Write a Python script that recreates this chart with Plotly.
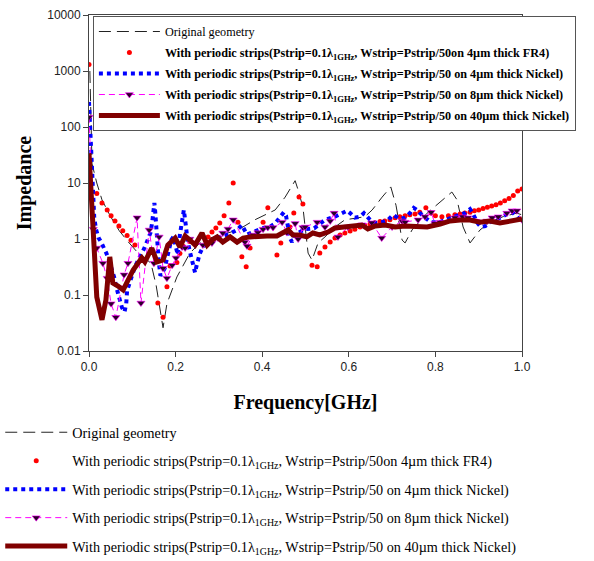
import plotly.graph_objects as go

# ---------------- data ----------------
orig_x = [0.002, 0.004, 0.007, 0.018, 0.03, 0.05, 0.07, 0.09, 0.11, 0.13, 0.143, 0.155, 0.164, 0.171,
          0.18, 0.203, 0.233, 0.263, 0.30, 0.344, 0.383, 0.413, 0.43, 0.453, 0.476, 0.483, 0.494, 0.506,
          0.515, 0.529, 0.545, 0.568, 0.591, 0.637, 0.654, 0.677, 0.697, 0.709, 0.723, 0.73, 0.746,
          0.781, 0.811, 0.838, 0.85, 0.864, 0.88, 0.903, 0.926, 0.956, 0.988, 1.0]
orig_y = [1000, 150, 22, 10, 5, 2.5, 1.4, 0.9, 0.6, 0.45, 0.37, 0.15, 0.06, 0.026,
          0.07, 0.21, 0.56, 0.96, 1.15, 1.45, 2.2, 2.9, 3.3, 5.6, 11, 7.5, 3.7, 0.56,
          0.42, 0.85, 1.09, 1.64, 2.2, 2.5, 3.3, 5.6, 8.5, 4.0, 0.96, 0.85, 1.45,
          2.9, 4.6, 6.9, 5.0, 1.64, 0.85, 1.45, 2.0, 2.5, 2.9, 2.7]

fr4_x = [0.000, 0.018, 0.030, 0.042, 0.051, 0.060, 0.069, 0.078, 0.088, 0.097, 0.106, 0.159, 0.171,
         0.180, 0.187, 0.203, 0.210, 0.217, 0.233, 0.275, 0.284, 0.293, 0.302, 0.312, 0.323, 0.333,
         0.344, 0.353, 0.363, 0.372, 0.402, 0.413, 0.434, 0.443, 0.455, 0.464, 0.473, 0.485, 0.494,
         0.515, 0.527, 0.533, 0.545, 0.557, 0.568, 0.580, 0.591, 0.603, 0.614, 0.626, 0.637, 0.649,
         0.660, 0.672, 0.683, 0.695, 0.707, 0.718, 0.730, 0.741, 0.753, 0.764, 0.778, 0.790, 0.800,
         0.815, 0.830, 0.845, 0.857, 0.868, 0.880, 0.890, 0.900, 0.910, 0.920, 0.930, 0.940, 0.950,
         0.960, 0.970, 0.980, 0.990, 1.000]
fr4_y = [1300, 6.5, 4.4, 3.3, 2.6, 2.1, 1.7, 1.4, 1.15, 0.95, 0.78, 0.072, 0.04,
         0.14, 0.33, 0.38, 0.55, 0.75, 0.9, 1.09, 1.33, 1.57, 1.93, 2.6, 4.4, 10,
         2.0, 0.48, 0.32, 0.69, 2.0, 3.6, 0.52, 0.85, 1.33, 1.64, 2.9, 5.6, 4.2,
         0.34, 0.32, 0.56, 0.72, 0.88, 1.04, 1.18, 1.28, 1.39, 1.5, 1.64, 1.75, 1.85,
         1.95, 2.05, 2.1, 2.2, 2.4, 2.5, 2.6, 2.7, 2.8, 3.0, 3.6, 2.9, 2.6,
         2.5, 2.6, 2.7, 2.8, 2.9, 3.0, 3.2, 3.3, 3.5, 3.7, 3.9, 4.1, 4.4,
         4.8, 5.3, 6.0, 7.2, 7.8]

ni4_x = [0.000, 0.002, 0.004, 0.006, 0.008, 0.010, 0.012, 0.016, 0.022, 0.028, 0.034, 0.040, 0.046,
         0.052, 0.058, 0.064, 0.070, 0.076, 0.082, 0.086, 0.088, 0.095, 0.105, 0.115, 0.122, 0.130,
         0.136, 0.142, 0.146, 0.149, 0.151, 0.153, 0.155, 0.157, 0.159, 0.161, 0.165, 0.175, 0.180,
         0.185, 0.190, 0.195, 0.200, 0.205, 0.210, 0.215, 0.219, 0.222, 0.225, 0.228, 0.232, 0.236,
         0.240, 0.245, 0.249, 0.252, 0.256, 0.263, 0.275, 0.285, 0.296, 0.307, 0.319, 0.330, 0.342,
         0.353, 0.365, 0.376, 0.388, 0.400, 0.410, 0.420, 0.430, 0.443, 0.450, 0.455, 0.459, 0.464,
         0.469, 0.476, 0.492, 0.499, 0.520, 0.545, 0.568, 0.584, 0.596, 0.603, 0.614, 0.626, 0.635,
         0.649, 0.661, 0.677, 0.691, 0.702, 0.718, 0.730, 0.741, 0.750, 0.760, 0.770, 0.790, 0.810,
         0.835, 0.855, 0.868, 0.880, 0.887, 0.898, 0.905, 0.915, 0.930, 0.950, 0.966, 0.978, 0.990,
         1.000]
ni4_y = [280, 120, 40, 15, 7, 4, 2.5, 1.5, 1.05, 0.88, 0.72, 0.56, 0.42,
         0.30, 0.21, 0.13, 0.085, 0.06, 0.05, 0.07, 0.12, 0.18, 0.3, 0.45, 0.55, 0.75,
         0.95, 1.3, 2.0, 3.0, 4.4, 3.0, 1.6, 0.96, 0.6, 0.4, 0.22, 0.3, 0.45,
         0.64, 0.96, 1.1, 0.72, 0.52, 1.2, 2.0, 3.3, 2.2, 1.3, 0.9, 0.64, 0.48,
         0.32, 0.25, 0.35, 0.46, 0.55, 0.72, 0.85, 0.9, 1.04, 1.1, 1.18, 1.3, 1.45,
         1.78, 1.2, 1.3, 1.45, 1.55, 1.6, 1.7, 1.9, 2.5, 3.0, 2.6, 1.8, 1.04,
         0.88, 1.2, 1.4, 1.5, 1.55, 2.2, 2.5, 2.9, 3.2, 2.9, 2.4, 2.5, 2.9,
         2.2, 1.93, 2.0, 2.2, 2.7, 2.3, 2.4, 2.9, 3.6, 3.2, 2.6, 2.0, 2.0,
         2.4, 2.7, 2.9, 3.4, 2.8, 1.9, 1.64, 1.7, 2.1, 2.4, 2.8, 3.0, 2.4,
         2.1]

ni8_x = [0.000, 0.010, 0.018, 0.032, 0.042, 0.051, 0.062, 0.081, 0.090, 0.111, 0.120, 0.139, 0.150,
         0.162, 0.171, 0.180, 0.192, 0.201, 0.215, 0.222, 0.233, 0.245, 0.263, 0.284, 0.298, 0.309,
         0.321, 0.333, 0.360, 0.365, 0.379, 0.390, 0.402, 0.413, 0.425, 0.446, 0.457, 0.476, 0.483,
         0.494, 0.499, 0.527, 0.545, 0.557, 0.566, 0.575, 0.598, 0.630, 0.653, 0.676, 0.700, 0.723,
         0.730, 0.760, 0.776, 0.790, 0.799, 0.811, 0.845, 0.863, 0.875, 0.919, 0.931, 0.945, 0.965,
         0.977, 0.988, 1.000]
ni8_y = [150, 1.5, 0.69, 0.37, 0.2, 0.07, 0.04, 0.23, 0.37, 2.4, 0.072, 1.45, 0.37,
         1.09, 0.3, 0.2, 0.34, 0.46, 0.72, 0.69, 1.0, 0.85, 0.78, 0.85, 1.04, 1.28,
         1.51, 2.2, 0.88, 0.75, 1.18, 1.3, 1.5, 1.6, 1.6, 2.0, 1.3, 1.9, 1.0,
         1.6, 1.64, 2.0, 1.64, 2.1, 2.9, 1.09, 1.64, 1.8, 1.95, 1.04, 1.64, 2.1,
         2.0, 2.2, 2.5, 3.0, 1.9, 2.0, 2.4, 2.5, 2.4, 2.1, 2.4, 2.5, 2.9,
         3.2, 3.2, 2.2]

ni40_x = [0.000, 0.005, 0.009, 0.018, 0.030, 0.039, 0.048, 0.055, 0.067, 0.079, 0.102, 0.122, 0.129,
          0.145, 0.157, 0.171, 0.182, 0.199, 0.210, 0.222, 0.233, 0.245, 0.261, 0.273, 0.284, 0.296,
          0.309, 0.326, 0.342, 0.356, 0.372, 0.395, 0.411, 0.434, 0.448, 0.460, 0.471, 0.487, 0.503,
          0.517, 0.533, 0.552, 0.568, 0.591, 0.619, 0.630, 0.644, 0.661, 0.684, 0.707, 0.730, 0.753,
          0.781, 0.811, 0.834, 0.857, 0.880, 0.903, 0.926, 0.949, 0.972, 1.000]
ni40_y = [34, 5.0, 1.18, 0.092, 0.036, 0.081, 0.48, 0.164, 0.145, 0.123, 0.28, 0.46, 0.39,
          0.69, 0.39, 0.42, 0.78, 1.04, 0.72, 1.13, 0.96, 0.78, 1.28, 0.78, 0.96, 1.09,
          0.88, 1.09, 0.88, 1.04, 1.09, 1.13, 1.13, 1.13, 1.33, 1.45, 1.18, 1.18, 1.09,
          1.28, 1.18, 1.33, 1.57, 1.64, 1.78, 1.78, 1.51, 1.71, 1.78, 1.64, 1.71, 1.64,
          1.64, 1.85, 2.1, 2.18, 2.18, 2.0, 2.1, 1.93, 2.1, 2.27]

y_ticks = [0.01, 0.1, 1, 10, 100, 1000, 10000]
y_tick_labels = ["0.01", "0.1", "1", "10", "100", "1000", "10000"]
x_ticks = [0.0, 0.2, 0.4, 0.6, 0.8, 1.0]
x_tick_labels = ["0.0", "0.2", "0.4", "0.6", "0.8", "1.0"]

lam = "λ<sub>1GHz</sub>"
names = [
    "Original geometry",
    f"With periodic strips(Pstrip=0.1{lam}, Wstrip=Pstrip/50on 4µm thick FR4)",
    f"With periodic strips(Pstrip=0.1{lam}, Wstrip=Pstrip/50 on 4µm thick Nickel)",
    f"With periodic strips(Pstrip=0.1{lam}, Wstrip=Pstrip/50 on 8µm thick Nickel)",
    f"With periodic strips(Pstrip=0.1{lam}, Wstrip=Pstrip/50 on 40µm thick Nickel)",
]

# ---------------- styles ----------------
styles = [
    dict(mode="lines", line=dict(color="#222222", width=1, dash="12px,6px")),
    dict(mode="markers", marker=dict(color="#ff0000", size=5, symbol="circle")),
    dict(mode="lines", line=dict(color="#0000ff", width=4, dash="4px,4px")),
    dict(mode="lines+markers", line=dict(color="#ff00ff", width=1, dash="6px,4px"),
         marker=dict(symbol="triangle-down", size=7, color="#2a0028",
                     line=dict(color="#ff00ff", width=0.6))),
    dict(mode="lines", line=dict(color="#800000", width=5)),
]
series = [(orig_x, orig_y), (fr4_x, fr4_y), (ni4_x, ni4_y), (ni8_x, ni8_y), (ni40_x, ni40_y)]

fig = go.Figure()
for i, ((xs, ys), st) in enumerate(zip(series, styles)):
    label = names[i] if i == 0 else f"<b>{names[i]}</b>"
    fig.add_trace(go.Scatter(x=xs, y=ys, name=label, legend="legend",
                             legendgroup=f"g{i}", showlegend=True, cliponaxis=True, **st))
for i, st in enumerate(styles):
    fig.add_trace(go.Scatter(x=[None], y=[None], name=names[i], legend="legend2",
                             legendgroup=f"g{i}", showlegend=True, **st))

serif = "Liberation Serif"
fig.update_layout(
    width=594, height=561,
    margin=dict(l=89, r=72, t=15, b=210, autoexpand=False),
    paper_bgcolor="white", plot_bgcolor="white",
    font=dict(family=serif, color="#000000"),
    xaxis=dict(range=[0, 1], tickvals=x_ticks, ticktext=x_tick_labels,
               showgrid=False, zeroline=False, showline=True, mirror=True,
               linecolor="#444444", linewidth=1, ticks="outside", ticklen=5,
               tickcolor="#444444",
               tickfont=dict(family="Liberation Sans", size=12, color="#222222"),
               title=dict(text="Frequency[GHz]", standoff=21,
                          font=dict(family=serif, size=20, weight="bold"))),
    yaxis=dict(type="log", range=[-2, 4], tickvals=y_ticks, ticktext=y_tick_labels,
               showgrid=False, zeroline=False, showline=True, mirror=True,
               linecolor="#444444", linewidth=1, ticks="outside", ticklen=5,
               tickcolor="#444444",
               tickfont=dict(family="Liberation Sans", size=12, color="#222222"),
               title=dict(text="Impedance", standoff=10,
                          font=dict(family=serif, size=20, weight="bold"))),
    legend=dict(x=0.009, y=0.997, xanchor="left", yanchor="top",
                bgcolor="white", bordercolor="#555555", borderwidth=1,
                font=dict(family=serif, size=12.2, color="#000000"),
                itemwidth=61, tracegroupgap=2, traceorder="grouped",
                itemclick=False, itemdoubleclick=False),
    legend2=dict(x=-0.205, y=-0.195, xanchor="left", yanchor="top",
                 bgcolor="rgba(0,0,0,0)", borderwidth=0,
                 font=dict(family=serif, size=14.2, color="#000000"),
                 itemwidth=62, tracegroupgap=7, traceorder="grouped",
                 itemclick=False, itemdoubleclick=False),
)

fig.write_html("out.html")
